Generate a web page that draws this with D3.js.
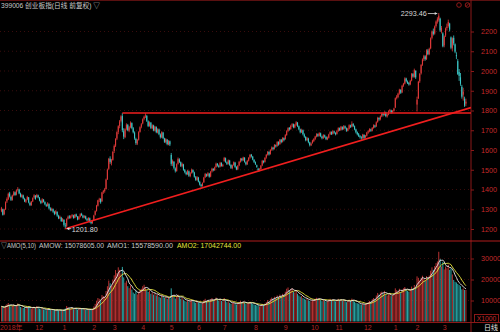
<!DOCTYPE html>
<html><head><meta charset="utf-8">
<script src="https://cdn.jsdelivr.net/npm/d3@7"></script>
<style>
html,body{margin:0;padding:0;background:#000;}
svg{display:block;}
text{font-family:"Liberation Sans","Noto Sans CJK SC",sans-serif;}
</style></head><body>
<svg id="chart" width="500" height="332"></svg>
<script>
// 399006 daily candles, 2018-10-26 .. 2020-03-24 (forward adjusted)
const opens = [
1290,1300,1275,1300,1340,1350,1380,1362,1346,1372,
1386,1374,1398,1400,1378,1362,1370,1352,1338,1350,
1360,1332,1320,1340,1360,1368,1362,1370,1358,1342,
1334,1348,1336,1322,1316,1326,1304,1294,1300,1286,
1278,1286,1266,1254,1258,1242,1246,1218,1216,1252,
1264,1256,1266,1268,1256,1274,1262,1250,1262,1276,
1268,1258,1264,1250,1244,1254,1236,1230,1246,1272,
1292,1318,1346,1352,1340,1386,1392,1402,1452,1505,
1556,1535,1550,1595,1622,1658,1692,1722,1748,1772,
1695,1665,1708,1726,1698,1716,1736,1710,1688,1656,
1632,1652,1692,1718,1735,1758,1770,1772,1745,1722,
1738,1710,1724,1698,1716,1688,1704,1678,1664,1688,
1658,1640,1652,1628,1644,1575,1532,1540,1506,1494,
1530,1552,1538,1518,1526,1498,1486,1478,1492,1468,
1484,1498,1486,1462,1448,1460,1438,1424,1418,1436,
1462,1476,1470,1480,1466,1492,1504,1498,1514,1530,
1520,1516,1534,1520,1545,1558,1538,1530,1546,1524,
1508,1524,1536,1514,1502,1522,1540,1556,1548,1560,
1538,1528,1546,1562,1576,1566,1550,1538,1522,1505,
1496,1504,1522,1544,1540,1562,1576,1590,1580,1602,
1612,1606,1624,1620,1640,1630,1652,1642,1660,1655,
1676,1696,1712,1706,1724,1730,1714,1728,1738,1720,
1704,1690,1700,1678,1666,1650,1658,1638,1624,1636,
1646,1656,1668,1680,1672,1684,1668,1660,1674,1666,
1654,1662,1680,1690,1682,1694,1686,1682,1696,1710,
1702,1716,1706,1720,1710,1698,1708,1724,1718,1732,
1720,1704,1690,1680,1670,1664,1660,1676,1664,1672,
1688,1696,1704,1698,1712,1724,1720,1742,1762,1756,
1770,1784,1778,1790,1770,1780,1796,1800,1790,1798,
1815,1864,1868,1886,1904,1892,1926,1936,1962,1946,
1940,1932,1952,1984,1970,2000,1830,1862,1948,1988,
2032,2060,2074,2060,2104,2086,2115,2168,2200,2190,
2228,2250,2260,2265,2200,2190,2130,2180,2218,2228,
2240,2170,2115,2168,2135,2080,2050,1995,1968,1920,
1880,1860,1835];
const highs = [
1312,1303,1302,1340,1360,1384,1388,1368,1374,1392,
1390,1400,1412,1404,1384,1378,1374,1358,1352,1368,
1362,1338,1342,1360,1376,1372,1378,1374,1362,1348,
1356,1352,1340,1328,1336,1330,1310,1308,1304,1292,
1296,1290,1272,1268,1262,1256,1250,1230,1254,1268,
1270,1270,1276,1272,1276,1278,1266,1266,1280,1282,
1272,1270,1268,1256,1260,1258,1242,1246,1272,1294,
1322,1348,1358,1356,1388,1398,1408,1455,1506,1560,
1568,1555,1595,1628,1660,1695,1725,1752,1776,1787,
1710,1710,1735,1732,1722,1745,1740,1716,1694,1662,
1656,1695,1720,1736,1760,1774,1787,1778,1750,1745,
1742,1730,1728,1722,1720,1710,1708,1684,1695,1692,
1662,1660,1656,1650,1648,1585,1552,1544,1512,1532,
1562,1558,1542,1536,1530,1504,1492,1500,1496,1488,
1506,1502,1490,1468,1468,1464,1444,1428,1436,1464,
1484,1480,1488,1484,1494,1510,1508,1516,1536,1534,
1526,1540,1538,1530,1565,1562,1542,1552,1550,1528,
1526,1542,1540,1518,1524,1545,1560,1560,1566,1564,
1542,1550,1564,1580,1580,1570,1554,1542,1526,1510,
1508,1524,1550,1548,1564,1580,1595,1594,1604,1618,
1616,1630,1628,1645,1644,1656,1656,1665,1664,1680,
1700,1715,1716,1728,1736,1734,1732,1746,1742,1724,
1708,1708,1704,1684,1670,1666,1662,1642,1638,1652,
1660,1672,1685,1684,1690,1688,1672,1680,1678,1670,
1668,1682,1695,1694,1700,1698,1690,1700,1715,1714,
1722,1720,1726,1724,1714,1712,1730,1728,1745,1736,
1724,1708,1694,1686,1676,1670,1682,1680,1676,1692,
1700,1710,1708,1716,1730,1728,1745,1768,1766,1775,
1790,1788,1796,1794,1784,1800,1808,1804,1802,1814,
1866,1878,1890,1910,1908,1930,1940,1968,1966,1952,
1944,1955,1990,1990,2012,2004,1870,1950,1990,2035,
2064,2082,2080,2110,2112,2118,2170,2205,2215,2230,
2256,2272,2293.46,2270,2228,2196,2180,2220,2240,2260,
2244,2175,2170,2180,2140,2095,2060,2010,1990,1930,
1915,1870,1860];
const lows = [
1285,1268,1270,1296,1332,1348,1360,1342,1344,1366,
1368,1370,1390,1376,1360,1358,1350,1336,1332,1346,
1330,1316,1318,1336,1354,1348,1358,1355,1340,1326,
1330,1334,1320,1312,1314,1300,1290,1290,1282,1270,
1274,1262,1250,1250,1236,1236,1212,1201.8,1210,1248,
1252,1252,1260,1252,1254,1260,1244,1246,1258,1266,
1254,1254,1248,1240,1240,1232,1224,1226,1244,1268,
1288,1314,1336,1328,1338,1378,1384,1400,1448,1500,
1530,1522,1546,1585,1615,1650,1680,1710,1740,1690,
1655,1660,1700,1695,1690,1710,1705,1684,1652,1626,
1625,1648,1688,1710,1730,1750,1762,1742,1716,1718,
1706,1705,1695,1694,1685,1684,1675,1658,1660,1655,
1636,1634,1624,1624,1620,1520,1518,1502,1486,1490,
1526,1534,1514,1512,1495,1482,1472,1474,1464,1462,
1480,1482,1460,1444,1444,1436,1420,1410,1414,1434,
1458,1464,1466,1460,1462,1486,1492,1494,1510,1516,
1510,1512,1516,1514,1540,1535,1524,1526,1520,1504,
1504,1520,1510,1498,1498,1518,1536,1542,1544,1536,
1522,1524,1542,1556,1562,1548,1534,1524,1510,1490,
1492,1500,1518,1532,1536,1556,1572,1572,1576,1596,
1598,1602,1612,1616,1622,1626,1634,1638,1644,1652,
1672,1690,1698,1702,1716,1710,1710,1722,1716,1700,
1684,1686,1674,1662,1644,1646,1634,1618,1620,1632,
1640,1650,1664,1666,1668,1665,1654,1656,1662,1650,
1650,1658,1676,1676,1678,1682,1674,1678,1692,1696,
1698,1700,1702,1706,1692,1694,1704,1712,1714,1716,
1700,1684,1674,1666,1658,1652,1656,1654,1658,1668,
1682,1690,1692,1694,1708,1712,1716,1738,1748,1750,
1766,1770,1774,1766,1764,1776,1790,1784,1786,1794,
1812,1856,1862,1880,1884,1888,1920,1932,1942,1934,
1926,1928,1948,1966,1966,1960,1795,1858,1940,1982,
2026,2050,2052,2056,2080,2080,2110,2160,2180,2184,
2220,2240,2250,2198,2190,2120,2120,2172,2205,2220,
2200,2110,2100,2130,2090,2060,1980,1950,1925,1860,
1850,1818,1822];
const closes = [
1305,1272,1298,1335,1352,1378,1366,1348,1370,1385,
1372,1396,1402,1380,1365,1372,1355,1340,1348,1362,
1335,1322,1338,1356,1370,1352,1372,1360,1345,1332,
1350,1338,1325,1318,1330,1305,1296,1302,1288,1276,
1290,1268,1255,1262,1240,1250,1221,1214,1250,1262,
1258,1265,1270,1256,1272,1264,1248,1262,1275,1270,
1258,1266,1252,1244,1256,1236,1230,1242,1268,1290,
1318,1345,1350,1335,1385,1392,1400,1450,1500,1555,
1540,1548,1590,1620,1655,1690,1720,1745,1770,1700,
1668,1705,1728,1700,1715,1738,1712,1690,1660,1635,
1650,1690,1715,1730,1755,1768,1775,1748,1722,1740,
1712,1725,1700,1718,1690,1705,1680,1665,1690,1660,
1642,1655,1630,1645,1628,1530,1545,1510,1495,1528,
1555,1540,1520,1530,1500,1488,1478,1495,1470,1482,
1500,1488,1465,1450,1462,1440,1425,1418,1432,1460,
1478,1470,1482,1465,1490,1505,1498,1512,1530,1522,
1515,1535,1520,1525,1560,1540,1530,1548,1525,1510,
1522,1538,1515,1502,1520,1540,1555,1548,1562,1540,
1528,1545,1560,1575,1568,1552,1540,1530,1515,1498,
1502,1520,1545,1538,1560,1575,1590,1578,1600,1612,
1605,1625,1618,1640,1628,1652,1640,1660,1650,1675,
1695,1710,1705,1722,1730,1715,1728,1740,1722,1705,
1690,1702,1680,1668,1650,1660,1640,1625,1632,1648,
1655,1668,1680,1672,1685,1670,1660,1675,1668,1655,
1662,1678,1690,1682,1695,1688,1680,1695,1710,1702,
1718,1705,1720,1712,1698,1708,1725,1718,1732,1722,
1705,1690,1680,1672,1665,1660,1678,1662,1672,1688,
1695,1705,1698,1712,1725,1718,1740,1762,1755,1770,
1785,1778,1790,1772,1780,1795,1802,1790,1798,1810,
1862,1870,1885,1905,1890,1925,1935,1962,1948,1940,
1932,1950,1985,1972,2005,1968,1855,1945,1985,2030,
2058,2075,2060,2105,2085,2112,2165,2200,2188,2225,
2250,2262,2280,2205,2218,2125,2175,2215,2225,2248,
2210,2118,2165,2140,2098,2075,1985,1975,1935,1870,
1895,1825,1845];
// daily turnover, in units of 1000 (AMO / 1000)
const amounts = [
7200,6800,6500,7600,8200,8800,7900,7100,7400,8100,
7300,7800,8600,7700,6900,6700,6400,6800,6200,6900,
7300,6600,6100,6500,7000,6300,
7400,6800,6200,5900,6300,5800,5600,5400,5900,6100,
5500,5300,5200,5600,5400,5800,5300,5100,5500,5200,
5600,6200,7400,6800,6300,6100,6600,5900,6400,6200,
5700,5900,6500,6300,5800,6000,5600,5500,5900,5700,5400,6000,
7200,8400,9800,11200,10800,10200,12600,12100,11800,14500,
16800,19500,18200,16900,19800,
22000,24500,23000,25800,24600,22900,26000,21000,18500,19400,
16800,15900,17200,15200,13800,13200,14600,12900,14200,14800,15600,
16800,17500,16200,14900,14100,14800,13200,13900,12800,13600,
12400,12900,11800,11300,12600,11900,11200,11600,10800,11400,10900,
15800,12600,11800,10900,12200,12800,11600,10800,11200,10400,
9800,9500,10200,9600,9900,10500,9700,9200,8900,9400,
9000,8700,8400,8900,10200,10800,9900,10300,9400,10600,
11200,10100,10500,11400,10600,9900,10800,9800,9600,
11200,10100,9200,9600,8900,8400,8700,9100,8500,8100,
8600,9300,9800,9200,9500,8800,8300,8600,9000,9400,8900,8400,8100,
7900,7600,7800,7200,7600,8400,7900,8600,9300,10200,
9600,10800,11400,10900,11800,11200,12400,11600,12800,12100,13200,12500,
14200,15600,16200,14800,15400,15900,14100,13800,14600,13200,
12400,11800,12100,11200,10800,10400,10900,10100,9800,9600,
10400,10200,10900,11300,10600,11100,10200,9700,10300,9800,
9400,9600,10400,10800,10100,10600,9900,9600,
10200,10800,10100,10600,9800,10400,9700,9200,9500,10300,
9800,10900,10200,9400,8900,8700,8500,8200,8000,8600,8100,
8400,8900,9300,9800,9400,10600,11200,10800,12400,13600,
12900,13800,14200,13400,14600,12800,12400,12900,13200,12100,12500,13400,
15800,14900,14200,15600,13800,15200,15800,16400,15100,14600,
14200,15000,16600,15800,17400,16200,
21500,20800,19600,20900,21800,20200,19400,21600,20800,21900,
24200,25800,24600,26400,27800,28600,33200,29800,26200,28400,
24800,26200,25400,27100,24600,25200,22400,
19800,18900,18600,17900,17334.49,16800,15300,15714.345,15000,15078.605];

// trading days per month on the time axis and the label shown at each month start
const monthDays   = [4, 22, 20, 22, 15, 21, 21, 20, 19, 23, 22, 20, 18, 21, 22, 16, 20, 17];
const monthLabels = ["2018年", "", "12", "1", "2", "3", "4", "5", "6", "7", "8", "9", "10", "11", "12", "1", "2", "3"];
const priceTicks = [1200, 1300, 1400, 1500, 1600, 1700, 1800, 1900, 2000, 2100, 2200];
const amoTicks = [10000, 20000, 30000];
// drawn support / resistance: rising line from the low, flat line at the spring highs
const trendEndValue = 1807;
const resistanceValue = 1787;
const resistanceStart = 89;

const N = closes.length;
const svg = d3.select("#chart");
const axisX = 471;

const x = d3.scaleBand().domain(d3.range(N)).range([0.8, 466.6]).paddingInner(0);
const bw = x.bandwidth();
const cx = i => x(i) + bw / 2;
const yP = d3.scaleLinear().domain([1200, 2200]).range([229, 31.5]);
const yA = d3.scaleLinear().domain([0, 30000]).range([321.5, 258.5]);

const upC = "#e03a3a", dnC = "#3cc8c8";
const upV = "#b83232", dnV = "#2aa6a6";
const axisRed = "#8b1818", labelRed = "#c42a2a";

svg.append("rect").attr("width", 500).attr("height", 332).attr("fill", "#000");

// clip regions
const defs = svg.append("defs");
defs.append("clipPath").attr("id", "pclip").append("rect").attr("x", 0).attr("y", 10).attr("width", axisX).attr("height", 230);
defs.append("clipPath").attr("id", "vclip").append("rect").attr("x", 0).attr("y", 250).attr("width", axisX).attr("height", 72);

// faint grid
svg.append("g").selectAll("line").data(priceTicks).join("line")
  .attr("x1", 0).attr("x2", axisX).attr("y1", d => yP(d)).attr("y2", d => yP(d))
  .attr("stroke", "#3a0c0c").attr("stroke-dasharray", "1,3").attr("stroke-width", 1);
svg.append("g").selectAll("line").data(amoTicks).join("line")
  .attr("x1", 0).attr("x2", axisX).attr("y1", d => yA(d)).attr("y2", d => yA(d))
  .attr("stroke", "#3a0c0c").attr("stroke-dasharray", "1,3").attr("stroke-width", 1);

// frame lines
svg.append("line").attr("x1", 0).attr("x2", 500).attr("y1", 0.5).attr("y2", 0.5).attr("stroke", "#5a1010");
svg.append("line").attr("x1", axisX).attr("x2", axisX).attr("y1", 0).attr("y2", 332).attr("stroke", axisRed);
svg.append("line").attr("x1", 0).attr("x2", 500).attr("y1", 241).attr("y2", 241).attr("stroke", "#b01c1c");
svg.append("line").attr("x1", 0).attr("x2", 500).attr("y1", 322.5).attr("y2", 322.5).attr("stroke", axisRed);

// candles
const days = d3.range(N).map(i => ({i, o: opens[i], h: highs[i], l: lows[i], c: closes[i], a: amounts[i]}));
const pg = svg.append("g").attr("clip-path", "url(#pclip)");
pg.selectAll("line.wick").data(days).join("line").attr("class", "wick")
  .attr("x1", d => cx(d.i)).attr("x2", d => cx(d.i))
  .attr("y1", d => yP(d.h)).attr("y2", d => yP(d.l))
  .attr("stroke", d => d.c >= d.o ? upC : dnC).attr("stroke-width", 0.8);
pg.selectAll("rect.body").data(days).join("rect").attr("class", "body")
  .attr("x", d => cx(d.i) - 0.55).attr("width", 1.1)
  .attr("y", d => yP(Math.max(d.o, d.c)))
  .attr("height", d => Math.max(0.8, Math.abs(yP(d.o) - yP(d.c))))
  .attr("fill", d => d.c >= d.o ? upC : dnC);

// trend lines
const lowIdx = d3.minIndex(lows);
const highIdx = d3.maxIndex(highs);
const slope = (trendEndValue - lows[lowIdx]) / (N - 1 - lowIdx);
const edgeIdx = (axisX - cx(0)) / bw;
const lineGen = d3.line().x(d => cx(0) + d[0] * bw).y(d => yP(d[1]));
pg.append("path")
  .attr("d", lineGen([[lowIdx, lows[lowIdx]], [edgeIdx, lows[lowIdx] + slope * (edgeIdx - lowIdx)]]))
  .attr("stroke", "#f01e1e").attr("stroke-width", 1.6).attr("fill", "none");
pg.append("path")
  .attr("d", lineGen([[resistanceStart, resistanceValue], [edgeIdx, resistanceValue]]))
  .attr("stroke", "#f01e1e").attr("stroke-width", 1.6).attr("fill", "none");

// extreme value markers
const fmt2 = d3.format(".2f");
const hx = cx(highIdx), hy = yP(highs[highIdx]);
svg.append("line").attr("x1", hx - 11).attr("x2", hx - 1.5).attr("y1", hy + 0.5).attr("y2", hy + 0.5).attr("stroke", "#d8d8d8").attr("stroke-width", 0.8);
svg.append("path").attr("d", `M${hx - 1.5},${hy + 0.5}l-2.5,-1.5v3z`).attr("fill", "#d8d8d8");
svg.append("text").attr("x", hx - 12).attr("y", hy + 3).attr("text-anchor", "end")
  .attr("font-size", 7.2).attr("fill", "#d8d8d8").text(fmt2(highs[highIdx]));
const lx = cx(lowIdx), ly = yP(lows[lowIdx]);
svg.append("line").attr("x1", lx + 1.5).attr("x2", lx + 6).attr("y1", ly).attr("y2", ly).attr("stroke", "#d8d8d8").attr("stroke-width", 0.8);
svg.append("path").attr("d", `M${lx + 1.5},${ly}l2.5,-1.5v3z`).attr("fill", "#d8d8d8");
svg.append("text").attr("x", lx + 6.5).attr("y", ly + 3.5)
  .attr("font-size", 7.2).attr("fill", "#d8d8d8").text(fmt2(lows[lowIdx]));

// price axis
const pAxis = svg.append("g").attr("transform", `translate(${axisX},0)`)
  .call(d3.axisRight(yP).tickValues(priceTicks).tickSize(3).tickPadding(7).tickFormat(d3.format("d")));
pAxis.select(".domain").remove();
pAxis.selectAll(".tick line").attr("stroke", axisRed);
pAxis.selectAll(".tick text").attr("fill", labelRed).attr("font-size", 7.2).attr("font-family", "Liberation Sans, sans-serif");

// turnover panel
const vg = svg.append("g").attr("clip-path", "url(#vclip)");
vg.selectAll("rect").data(days).join("rect")
  .attr("x", d => cx(d.i) - 0.5).attr("width", 1)
  .attr("y", d => yA(d.a)).attr("height", d => yA(0) - yA(d.a))
  .attr("fill", d => d.c >= d.o ? upV : dnV);
const maOf = k => amounts.map((v, i) => d3.mean(amounts.slice(Math.max(0, i - k + 1), i + 1)));
const ma5 = maOf(5), ma10 = maOf(10);
const maLine = arr => d3.line().x((v, i) => cx(i)).y(v => yA(v))(arr);
vg.append("path").attr("d", maLine(ma10)).attr("stroke", "#e6e63c").attr("fill", "none").attr("stroke-width", 0.9);
vg.append("path").attr("d", maLine(ma5)).attr("stroke", "#e8e8e8").attr("fill", "none").attr("stroke-width", 0.9);

const aAxis = svg.append("g").attr("transform", `translate(${axisX},0)`)
  .call(d3.axisRight(yA).tickValues(amoTicks).tickSize(3).tickPadding(7).tickFormat(d3.format("d")));
aAxis.select(".domain").remove();
aAxis.selectAll(".tick line").attr("stroke", axisRed);
aAxis.selectAll(".tick text").attr("fill", labelRed).attr("font-size", 7.2).attr("font-family", "Liberation Sans, sans-serif");

// unit box
svg.append("rect").attr("x", 474.5).attr("y", 314.5).attr("width", 24).attr("height", 8).attr("fill", "none").attr("stroke", axisRed);
svg.append("text").attr("x", 486.5).attr("y", 321).attr("text-anchor", "middle").attr("font-size", 6.8).attr("fill", labelRed).text("X1000");

// turnover header, each field fitted to its slot
const last = N - 1;
const hdr = svg.append("g").attr("font-size", 7).attr("fill", "#c8c8c8");
const hdrField = (x0, w, txt, col) => hdr.append("text").attr("x", x0).attr("y", 248)
  .attr("textLength", w).attr("lengthAdjust", "spacingAndGlyphs").attr("fill", col || null).text(txt);
hdrField(1, 35, "▽AMO(5,10)");
hdrField(39, 65, "AMOW: " + fmt2(amounts[last] * 1000));
hdrField(107, 66, "AMO1: " + fmt2(ma5[last] * 1000));
hdrField(177, 64, "AMO2: " + fmt2(ma10[last] * 1000), "#e6e63c");

// time axis
const starts = [];
monthDays.reduce((acc, d) => { starts.push(acc); return acc + d; }, 0);
const tickIdx = starts.filter((s, k) => monthLabels[k]);
const tAxis = svg.append("g").attr("transform", "translate(0,322)")
  .call(d3.axisBottom(x).tickValues(tickIdx).tickSize(0).tickPadding(0)
    .tickFormat(i => monthLabels[starts.indexOf(i)]));
tAxis.select(".domain").remove();
tAxis.selectAll(".tick text").attr("text-anchor", "start").attr("x", -1.5).attr("y", 7.5).attr("dy", 0)
  .attr("fill", "#b02424").attr("font-size", 7).attr("font-family", "Liberation Sans, Noto Sans CJK SC, sans-serif");
svg.append("text").attr("x", 484).attr("y", 329.5).attr("font-size", 7).attr("fill", "#e0e0e0").text("日线");

// title
svg.append("text").attr("x", 1).attr("y", 8).attr("font-size", 7.2).attr("fill", "#c8c8c8")
  .attr("textLength", 99).attr("lengthAdjust", "spacingAndGlyphs")
  .text("399006 创业板指(日线 前复权) ▽");
// toolbar glyphs
svg.append("circle").attr("cx", 459).attr("cy", 5).attr("r", 2.3).attr("fill", "none").attr("stroke", "#a01c1c").attr("stroke-width", 0.9);
svg.append("circle").attr("cx", 467.5).attr("cy", 5).attr("r", 2.3).attr("fill", "none").attr("stroke", "#a01c1c").attr("stroke-width", 0.9);
svg.append("line").attr("x1", 465.8).attr("x2", 469.2).attr("y1", 6.7).attr("y2", 3.3).attr("stroke", "#a01c1c").attr("stroke-width", 0.9);
</script>
</body></html>
